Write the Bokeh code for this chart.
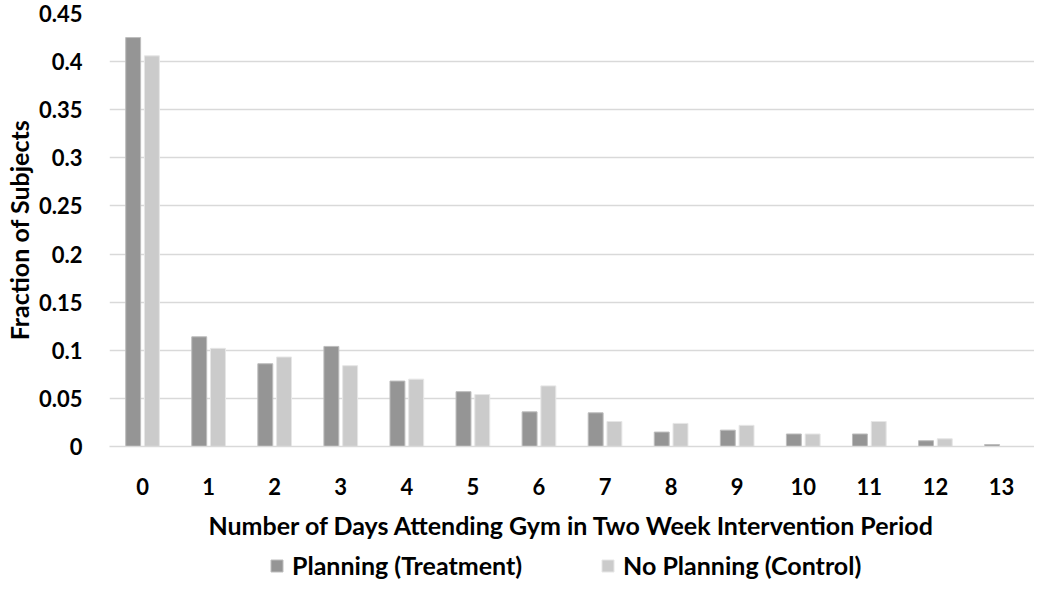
from bokeh.plotting import figure
from bokeh.models import FactorRange, Range1d, FixedTicker, Legend, LegendItem, ColumnDataSource
from bokeh.layouts import column
from bokeh.transform import dodge
from bokeh.embed import file_html
from bokeh.resources import INLINE

days = [str(i) for i in range(14)]
planning = [0.425, 0.114, 0.086, 0.104, 0.068, 0.057, 0.036, 0.035, 0.015, 0.017, 0.013, 0.013, 0.006, 0.002]
no_planning = [0.406, 0.102, 0.093, 0.084, 0.070, 0.054, 0.063, 0.026, 0.024, 0.022, 0.013, 0.026, 0.008, 0.0]
y_ticks = [0, 0.05, 0.1, 0.15, 0.2, 0.25, 0.3, 0.35, 0.4, 0.45]
y_tick_labels = ["0", "0.05", "0.1", "0.15", "0.2", "0.25", "0.3", "0.35", "0.4", "0.45"]
series_names = ["Planning (Treatment)", "No Planning (Control)"]

FONT = "Lato"
DARK = "#959595"
LIGHT = "#cbcbcb"
DARK_EDGE = "#bdbdbd"
LIGHT_EDGE = "#e6e6e6"

src = ColumnDataSource(dict(day=days, planning=planning, no_planning=no_planning))

p = figure(width=1034, height=547, x_range=FactorRange(factors=days, range_padding=0),
           y_range=Range1d(0, 0.45), output_backend="svg", toolbar_location=None,
           min_border_left=96, min_border_right=0, min_border_top=13, min_border_bottom=101)
p.outline_line_color = None
p.background_fill_color = "white"
p.border_fill_color = "white"

p.vbar(x=dodge("day", -0.142, range=p.x_range), top="planning", width=0.226, source=src,
       fill_color=DARK, line_color=DARK_EDGE, line_width=1)
p.vbar(x=dodge("day", 0.142, range=p.x_range), top="no_planning", width=0.226, source=src,
       fill_color=LIGHT, line_color=LIGHT_EDGE, line_width=1)

p.xgrid.grid_line_color = None
p.ygrid.grid_line_color = "#d9d9d9"
p.ygrid.grid_line_width = 1.5
p.yaxis.ticker = FixedTicker(ticks=y_ticks)
p.yaxis.major_label_overrides = {t: l for t, l in zip(y_ticks, y_tick_labels)}

for ax in (p.xaxis, p.yaxis):
    ax.major_tick_line_color = None
    ax.minor_tick_line_color = None
    ax.major_label_text_font = FONT
    ax.major_label_text_font_style = "bold"
    ax.major_label_text_font_size = "22px"
    ax.major_label_text_color = "black"
    ax.axis_label_text_font = FONT
    ax.axis_label_text_font_style = "bold"
    ax.axis_label_text_font_size = "25px"
    ax.axis_label_text_color = "black"

p.yaxis.axis_line_color = None
p.yaxis.major_label_standoff = 21
p.yaxis.axis_label = "Fraction of Subjects"
p.yaxis.axis_label_standoff = 2
p.xaxis.axis_line_color = "#d9d9d9"
p.xaxis.axis_line_width = 1.5
p.xaxis.major_label_standoff = 25
p.xaxis.axis_label = "Number of Days Attending Gym in Two Week Intervention Period"
p.xaxis.axis_label_standoff = 12

# legend strip below the chart: the same bars, drawn in a range where they stay hidden,
# serve only as legend swatches
leg = figure(width=1034, height=33, x_range=FactorRange(factors=days, range_padding=0),
             y_range=Range1d(10, 11), output_backend="svg", toolbar_location=None,
             min_border_left=0, min_border_right=0, min_border_top=0, min_border_bottom=0)
leg.axis.visible = False
leg.grid.grid_line_color = None
leg.outline_line_color = None
d1 = leg.vbar(x="day", top="planning", width=0.2, source=src, fill_color=DARK, line_color=DARK_EDGE)
d2 = leg.vbar(x="day", top="no_planning", width=0.2, source=src, fill_color=LIGHT, line_color=LIGHT_EDGE)
legend = Legend(items=[LegendItem(label=series_names[0], renderers=[d1]),
                       LegendItem(label=series_names[1], renderers=[d2])],
                orientation="horizontal", location=(160, 0),
                glyph_width=15, glyph_height=15, label_standoff=8, spacing=78,
                padding=0, margin=0, border_line_alpha=0, background_fill_alpha=0,
                label_text_font=FONT, label_text_font_style="bold", label_text_font_size="25px",
                label_text_color="black")
leg.add_layout(legend)

layout = column(p, leg, spacing=0)
open("out.html", "w").write(file_html(layout, INLINE))
